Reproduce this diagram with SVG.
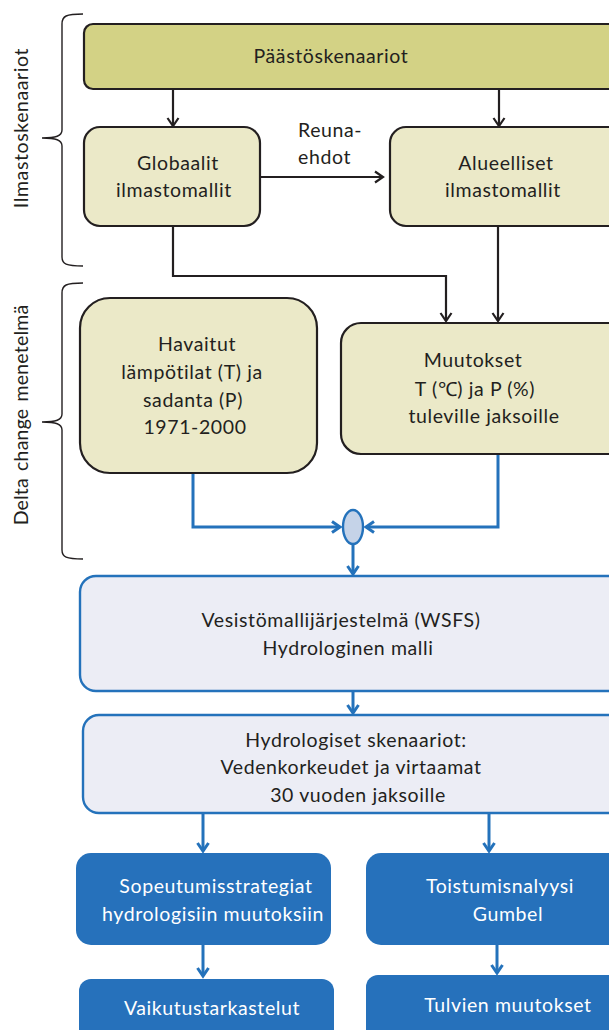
<svg xmlns="http://www.w3.org/2000/svg" width="609" height="1030" viewBox="0 0 609 1030">
<style>
text{font-family:Lato,"Liberation Sans",sans-serif;font-size:19.5px;letter-spacing:0.6px;fill:#231f20;text-anchor:middle}
.w{fill:#ffffff}
.olive{fill:#d3d285;stroke:#231f20;stroke-width:2.2}
.pale{fill:#ebe9c8;stroke:#231f20;stroke-width:2.2}
.lb{fill:#ecedf5;stroke:#2472bb;stroke-width:2.4}
.db{fill:#2671bb;stroke:none}
.k{fill:none;stroke:#231f20;stroke-width:2.2}
.b{fill:none;stroke:#2472bb;stroke-width:3}
.br{fill:none;stroke:#231f20;stroke-width:1.4}
</style>
<defs>
<marker id="ak" markerUnits="userSpaceOnUse" markerWidth="14" markerHeight="14" refX="10" refY="7" orient="auto">
<path d="M2,1.5 L10,7 L2,12.5" fill="none" stroke="#231f20" stroke-width="2.2"/>
</marker>
<marker id="ab" markerUnits="userSpaceOnUse" markerWidth="14" markerHeight="14" refX="10" refY="7" orient="auto">
<path d="M2,1.5 L10,7 L2,12.5" fill="none" stroke="#2472bb" stroke-width="3"/>
</marker>
</defs>

<g id="brackets">
<path class="br" d="M83,14 C66,14 62,16 62,24 L62,130 C62,136 56,138 42,138 C56,138 62,140 62,146 L62,257 C62,264 66,266 83,266"/>
<path class="br" d="M83,283 C66,283 62,285 62,293 L62,414 C62,420 56,422 42,422 C56,422 62,424 62,430 L62,550 C62,557 66,559 83,559"/>
<text transform="translate(28,128) rotate(-90)">Ilmastoskenaariot</text>
<text transform="translate(28,415) rotate(-90)" style="letter-spacing:0.2px" word-spacing="2">Delta change menetelmä</text>
</g>

<g id="connectors">
<path class="k" d="M173,89 L173,126" marker-end="url(#ak)"/>
<path class="k" d="M499,89 L499,126" marker-end="url(#ak)"/>
<path class="k" d="M260,177 L383,177" marker-end="url(#ak)"/>
<path class="k" d="M173,226 L173,276 L446,276 L446,321" marker-end="url(#ak)"/>
<path class="k" d="M498,226 L498,321" marker-end="url(#ak)"/>
<path class="b" d="M193,473 L193,527 L340,527" marker-end="url(#ab)"/>
<path class="b" d="M498,454 L498,527 L366,527" marker-end="url(#ab)"/>
<path class="b" d="M353,544 L353,574" marker-end="url(#ab)"/>
<path class="b" d="M353,691 L353,713" marker-end="url(#ab)"/>
<path class="b" d="M203,813 L203,851" marker-end="url(#ab)"/>
<path class="b" d="M489,813 L489,851" marker-end="url(#ab)"/>
<path class="b" d="M203,945 L203,976" marker-end="url(#ab)"/>
<path class="b" d="M497,945 L497,973" marker-end="url(#ab)"/>
<text x="298" y="137" style="text-anchor:start">Reuna-</text>
<text x="298" y="164" style="text-anchor:start">ehdot</text>
</g>

<g id="n-paastoskenaariot">
<rect class="olive" x="84" y="24" width="540" height="65" rx="9"/>
<text x="331" y="63">Päästöskenaariot</text>
</g>

<g id="n-globaalit">
<rect class="pale" x="84" y="127" width="176" height="99" rx="16"/>
<text x="178" y="170">Globaalit</text>
<text x="174" y="197">ilmastomallit</text>
</g>

<g id="n-alueelliset">
<rect class="pale" x="390" y="127" width="240" height="99" rx="16"/>
<text x="506" y="170">Alueelliset</text>
<text x="503" y="197">ilmastomallit</text>
</g>

<g id="n-havaitut">
<rect class="pale" x="80" y="298" width="237" height="175" rx="30"/>
<text x="197" y="351">Havaitut</text>
<text x="192" y="379">lämpötilat (T) ja</text>
<text x="193" y="407">sadanta (P)</text>
<text x="195" y="434">1971-2000</text>
</g>

<g id="n-muutokset">
<rect class="pale" x="341" y="323" width="290" height="131" rx="20"/>
<text x="473" y="367">Muutokset</text>
<text x="475" y="396">T (℃) ja P (%)</text>
<text x="484" y="423">tuleville jaksoille</text>
</g>

<g id="n-merge">
<ellipse cx="353" cy="527" rx="10" ry="17" fill="#c5d3e8" stroke="#2472bb" stroke-width="2.4"/>
</g>

<g id="n-wsfs">
<rect class="lb" x="80" y="576" width="550" height="115" rx="16"/>
<text x="341" y="627">Vesistömallijärjestelmä (WSFS)</text>
<text x="348" y="655">Hydrologinen malli</text>
</g>

<g id="n-hydrologiset">
<rect class="lb" x="83" y="715" width="547" height="98" rx="16"/>
<text x="356" y="747">Hydrologiset skenaariot:</text>
<text x="351" y="774">Vedenkorkeudet ja virtaamat</text>
<text x="358" y="802">30 vuoden jaksoille</text>
</g>

<g id="n-sopeutumis">
<rect class="db" x="76" y="853" width="255" height="92" rx="15"/>
<text class="w" x="216" y="893">Sopeutumisstrategiat</text>
<text class="w" x="213" y="921">hydrologisiin muutoksiin</text>
</g>

<g id="n-toistumis">
<rect class="db" x="366" y="853" width="260" height="92" rx="15"/>
<text class="w" x="500" y="893">Toistumisnalyysi</text>
<text class="w" x="508" y="921">Gumbel</text>
</g>

<g id="n-vaikutus">
<rect class="db" x="79" y="979" width="255" height="70" rx="12"/>
<text class="w" x="212" y="1015">Vaikutustarkastelut</text>
</g>

<g id="n-tulvien">
<rect class="db" x="366" y="975" width="260" height="70" rx="12"/>
<text class="w" x="508" y="1012">Tulvien muutokset</text>
</g>
</svg>
